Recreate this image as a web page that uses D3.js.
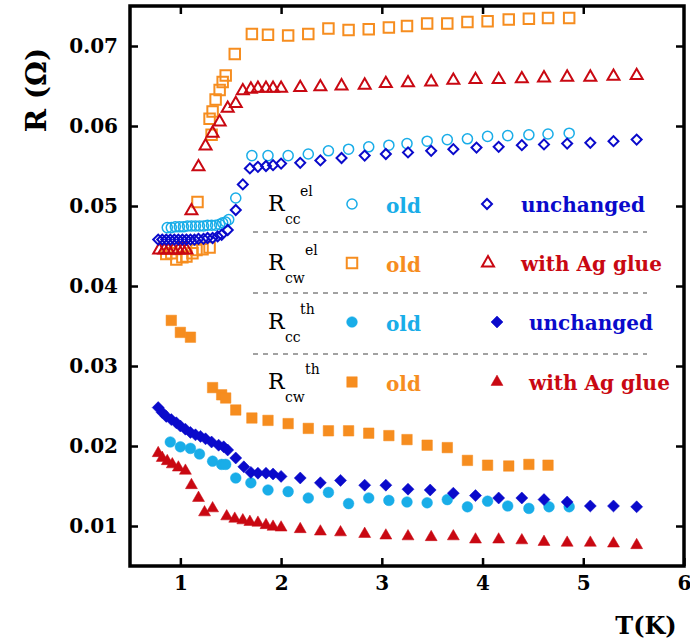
<!DOCTYPE html>
<html><head><meta charset="utf-8">
<script src="https://cdn.jsdelivr.net/npm/d3@7"></script>
<style>body{margin:0;background:#fff}</style>
</head><body><svg id="c" width="690" height="640"></svg>
<script>
// ---- data (T in K, R in Ohm) ----
const xTicks = [1, 2, 3, 4, 5, 6];
const yTicks = [0.01, 0.02, 0.03, 0.04, 0.05, 0.06, 0.07];

const T_ccElOld = [0.87,0.91,0.95,0.99,1.03,1.07,1.11,1.15,1.19,1.23,1.27,1.31,1.35,1.39,1.42,1.45,1.48,1.55,1.71,1.87,2.07,2.27,2.47,2.67,2.87,3.07,3.25,3.45,3.65,3.85,4.05,4.25,4.46,4.65,4.86];
const R_ccElOld = [0.0473,0.0473,0.0474,0.0474,0.0474,0.0475,0.0475,0.0475,0.0475,0.0475,0.0476,0.0476,0.0476,0.0477,0.0479,0.0480,0.0483,0.0510,0.0563,0.0563,0.0563,0.0565,0.0569,0.0571,0.0574,0.0576,0.0578,0.0581,0.0583,0.0584,0.0587,0.0588,0.0589,0.0590,0.0591];

const T_ccElUnch = [0.78,0.82,0.86,0.90,0.94,0.98,1.02,1.06,1.10,1.14,1.18,1.23,1.27,1.32,1.37,1.41,1.47,1.55,1.62,1.69,1.77,1.85,1.92,2.00,2.19,2.39,2.60,2.83,3.04,3.26,3.49,3.71,3.94,4.16,4.39,4.61,4.84,5.07,5.30,5.53];
const R_ccElUnch = [0.0458,0.0458,0.0458,0.0458,0.0458,0.0458,0.0458,0.0458,0.0458,0.0458,0.0459,0.0459,0.0460,0.0460,0.0462,0.0464,0.0470,0.0495,0.0527,0.0547,0.0549,0.0550,0.0551,0.0553,0.0554,0.0557,0.0560,0.0563,0.0565,0.0567,0.0569,0.0571,0.0573,0.0574,0.0576,0.0577,0.0578,0.0579,0.0581,0.0583];

const T_cwElOld = [0.86,0.91,0.96,1.02,1.06,1.12,1.16,1.22,1.29,1.17,1.29,1.31,1.32,1.35,1.39,1.42,1.45,1.54,1.71,1.87,2.07,2.27,2.47,2.67,2.87,3.07,3.25,3.45,3.65,3.85,4.05,4.26,4.46,4.65,4.86];
const R_cwElOld = [0.0440,0.0441,0.0433,0.0436,0.0437,0.0441,0.0445,0.0446,0.0448,0.0505,0.0609,0.0589,0.0618,0.0633,0.0645,0.0655,0.0663,0.0690,0.0715,0.0714,0.0713,0.0715,0.0722,0.0720,0.0721,0.0723,0.0725,0.0728,0.0728,0.0730,0.0731,0.0733,0.0734,0.0735,0.0735];

const T_cwElAg = [0.79,0.84,0.88,0.93,0.98,1.02,1.06,1.11,1.18,1.25,1.32,1.39,1.47,1.55,1.62,1.70,1.77,1.85,1.92,2.00,2.19,2.39,2.60,2.83,3.04,3.26,3.49,3.71,3.93,4.16,4.39,4.61,4.84,5.07,5.30,5.53];
const R_cwElAg = [0.0445,0.0445,0.0445,0.0445,0.0445,0.0445,0.0445,0.0494,0.0549,0.0575,0.0591,0.0605,0.0622,0.0628,0.0644,0.0646,0.0647,0.0647,0.0647,0.0647,0.0648,0.0649,0.0650,0.0651,0.0653,0.0654,0.0655,0.0657,0.0658,0.0658,0.0659,0.0660,0.0661,0.0661,0.0662,0.0663];

const T_ccThOld = [0.90,1.00,1.10,1.19,1.32,1.41,1.45,1.55,1.70,1.87,2.07,2.27,2.47,2.67,2.87,3.07,3.25,3.45,3.65,3.85,4.05,4.25,4.46,4.66,4.86];
const R_ccThOld = [0.0205,0.0199,0.0197,0.0190,0.0181,0.0177,0.0177,0.0160,0.0154,0.0145,0.0143,0.0135,0.0142,0.0128,0.0135,0.0132,0.0130,0.0129,0.0133,0.0124,0.0131,0.0125,0.0122,0.0124,0.0124];

const T_ccThUnch = [0.78,0.82,0.86,0.91,0.96,1.00,1.05,1.10,1.15,1.20,1.25,1.31,1.38,1.43,1.47,1.55,1.63,1.70,1.77,1.85,1.92,2.00,2.19,2.39,2.59,2.83,3.04,3.26,3.48,3.71,3.93,4.16,4.39,4.61,4.84,5.07,5.30,5.53];
const R_ccThUnch = [0.0248,0.0242,0.0237,0.0233,0.0229,0.0225,0.0221,0.0217,0.0214,0.0212,0.0209,0.0205,0.0201,0.0199,0.0195,0.0185,0.0174,0.0167,0.0166,0.0166,0.0165,0.0162,0.0160,0.0154,0.0157,0.0151,0.0151,0.0146,0.0145,0.0141,0.0138,0.0135,0.0135,0.0133,0.0130,0.0125,0.0125,0.0124];

const T_cwThOld = [0.91,1.00,1.10,1.32,1.41,1.45,1.55,1.71,1.87,2.07,2.27,2.47,2.67,2.87,3.07,3.25,3.45,3.65,3.85,4.05,4.26,4.46,4.65];
const R_cwThOld = [0.0357,0.0342,0.0336,0.0273,0.0264,0.0260,0.0245,0.0235,0.0232,0.0228,0.0222,0.0219,0.0219,0.0216,0.0213,0.0208,0.0201,0.0198,0.0182,0.0176,0.0175,0.0177,0.0176];

const T_cwThAg = [0.78,0.82,0.87,0.92,0.98,1.05,1.11,1.18,1.24,1.32,1.46,1.54,1.62,1.69,1.77,1.85,1.92,2.00,2.19,2.39,2.59,2.83,3.04,3.26,3.49,3.71,3.93,4.16,4.39,4.61,4.84,5.07,5.30,5.53];
const R_cwThAg = [0.0191,0.0185,0.0181,0.0177,0.0173,0.0169,0.0151,0.0135,0.0117,0.0122,0.0112,0.0109,0.0107,0.0105,0.0104,0.0101,0.0099,0.0098,0.0096,0.0093,0.0092,0.0090,0.0088,0.0087,0.0086,0.0087,0.0083,0.0083,0.0082,0.0080,0.0079,0.0079,0.0078,0.0076];

const legendRows = [
  {sub: "cc", sup: "el", label1: "old", label2: "unchanged"},
  {sub: "cw", sup: "el", label1: "old", label2: "with Ag glue"},
  {sub: "cc", sup: "th", label1: "old", label2: "unchanged"},
  {sub: "cw", sup: "th", label1: "old", label2: "with Ag glue"}
];

// ---- styles ----
const C_LB = "#19ade8", C_OR = "#f68d1f", C_BL = "#0a0acb", C_RD = "#c90812";
const FONT = "'DejaVu Serif', 'Liberation Serif', serif";

const svg = d3.select("#c");
const x = d3.scaleLinear().domain([0.5, 6]).range([130, 684]);
const y = d3.scaleLinear().domain([0.005, 0.075]).range([566, 6]);

const sym = {
  circle: d3.symbol().type(d3.symbolCircle),
  square: d3.symbol().type(d3.symbolSquare),
  triangle: d3.symbol().type(d3.symbolTriangle)
};
const series = [
  {T: T_cwElOld, R: R_cwElOld, shape: "square", size: 110, rot: 0, fill: false, color: C_OR},
  {T: T_cwElAg, R: R_cwElAg, shape: "triangle", size: 62, rot: 0, fill: false, color: C_RD},
  {T: T_ccElOld, R: R_ccElOld, shape: "circle", size: 80, rot: 0, fill: false, color: C_LB},
  {T: T_ccElUnch, R: R_ccElUnch, shape: "square", size: 50, rot: 45, fill: false, color: C_BL},
  {T: T_cwThOld, R: R_cwThOld, shape: "square", size: 110, rot: 0, fill: true, color: C_OR},
  {T: T_ccThOld, R: R_ccThOld, shape: "circle", size: 90, rot: 0, fill: true, color: C_LB},
  {T: T_ccThUnch, R: R_ccThUnch, shape: "square", size: 72, rot: 45, fill: true, color: C_BL},
  {T: T_cwThAg, R: R_cwThAg, shape: "triangle", size: 62, rot: 0, fill: true, color: C_RD}
];

function drawMark(g, s, px, py) {
  g.append("path")
    .attr("d", sym[s.shape].size(s.size)())
    .attr("transform", `translate(${px},${py}) rotate(${s.rot})`)
    .attr("fill", s.fill ? s.color : "none")
    .attr("stroke", s.color)
    .attr("stroke-width", s.fill ? 0.5 : (s.shape === "circle" ? 1.5 : 2));
}

const gData = svg.append("g");
series.forEach(s => {
  const g = gData.append("g");
  s.T.forEach((t, i) => drawMark(g, s, x(t), y(s.R[i])));
});

// ---- axes ----
function styleAxis(g) {
  g.select(".domain").remove();
  g.selectAll(".tick line").attr("stroke", "#000").attr("stroke-width", 2.5);
  g.selectAll(".tick text").attr("font-family", FONT).attr("font-weight", "bold")
    .attr("font-size", 20).attr("fill", "#000");
}
svg.append("g").attr("transform", "translate(0,566)")
  .call(d3.axisBottom(x).tickValues(xTicks).tickSize(-8).tickPadding(10).tickFormat(d3.format("d")))
  .call(styleAxis);
svg.append("g").attr("transform", "translate(0,6)")
  .call(d3.axisTop(x).tickValues(xTicks.slice(0, 5)).tickSize(-8).tickFormat(""))
  .call(styleAxis);
svg.append("g").attr("transform", "translate(130,0)")
  .call(d3.axisLeft(y).tickValues(yTicks).tickSize(-8).tickPadding(12).tickFormat(d3.format(".2f")))
  .call(styleAxis);
svg.append("g").attr("transform", "translate(684,0)")
  .call(d3.axisRight(y).tickValues(yTicks).tickSize(-8).tickFormat(""))
  .call(styleAxis);

svg.append("rect").attr("x", 130).attr("y", 6).attr("width", 554).attr("height", 560)
  .attr("fill", "none").attr("stroke", "#000").attr("stroke-width", 3.5);

// axis titles
svg.append("text").attr("transform", "translate(46,90) rotate(-90)")
  .attr("text-anchor", "middle").attr("font-family", FONT).attr("font-weight", "bold")
  .attr("font-size", 28).text("R (Ω)");
svg.append("text").attr("x", 646).attr("y", 634).attr("text-anchor", "middle")
  .attr("font-family", FONT).attr("font-weight", "bold").attr("font-size", 24).text("T(K)");

// ---- legend ----
const lg = svg.append("g");
const rowY = [204, 263, 322, 382];
const markerX2 = [487, 488, 497, 497];
const text2X = [521, 521, 529, 529];
legendRows.forEach((r, i) => {
  const yy = rowY[i];
  const t = lg.append("text").attr("font-family", FONT).attr("fill", "#000");
  t.append("tspan").attr("x", 268).attr("y", yy + 7).attr("font-size", 22).text("R");
  t.append("tspan").attr("x", 285).attr("y", yy + 20).attr("font-size", 14).text(r.sub);
  t.append("tspan").attr("x", r.sub === "cc" ? 300 : 305).attr("y", yy - 8).attr("font-size", 14).text(r.sup);
  const s1 = series[i < 2 ? (i === 0 ? 2 : 0) : (i === 2 ? 5 : 4)];
  const s2 = series[i < 2 ? (i === 0 ? 3 : 1) : (i === 2 ? 6 : 7)];
  drawMark(lg, s1, 352, yy);
  drawMark(lg, s2, markerX2[i], yy);
  lg.append("text").attr("x", 386).attr("y", yy + 9).attr("font-family", FONT).attr("font-weight", "bold")
    .attr("font-size", 20).attr("fill", s1.color).text(r.label1);
  lg.append("text").attr("x", text2X[i]).attr("y", yy + 8).attr("font-family", FONT).attr("font-weight", "bold")
    .attr("font-size", 20).attr("fill", s2.color).text(r.label2);
});
[232, 293, 354].forEach(yy => {
  lg.append("line").attr("x1", 253).attr("x2", 647).attr("y1", yy).attr("y2", yy)
    .attr("stroke", "#444").attr("stroke-width", 1).attr("stroke-dasharray", "5,5");
});
</script>
</body></html>
